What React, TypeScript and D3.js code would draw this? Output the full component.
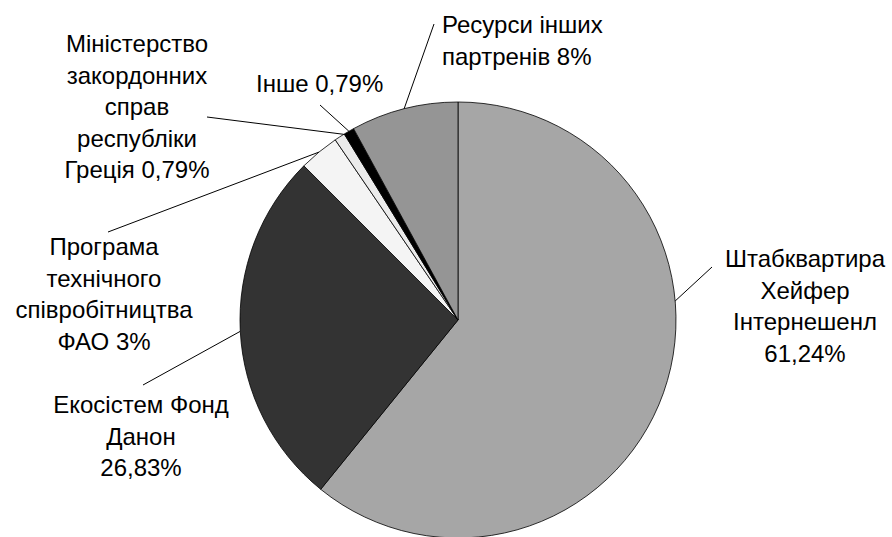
import React from "react";
import * as d3 from "d3";

// дані діаграми
const categories = [
  "Штабквартира Хейфер Інтернешенл",
  "Екосістем Фонд Данон",
  "Програма технічного співробітництва ФАО",
  "Міністерство закордонних справ республіки Греція",
  "Інше",
  "Ресурси інших партренів",
];
const values = [61.24, 26.83, 3, 0.79, 0.79, 8];
const labelLines = [
  ["Штабквартира", "Хейфер", "Інтернешенл", "61,24%"],
  ["Екосістем Фонд", "Данон", "26,83%"],
  ["Програма", "технічного", "співробітництва", "ФАО 3%"],
  ["Міністерство", "закордонних", "справ", "республіки", "Греція 0,79%"],
  ["Інше 0,79%"],
  ["Ресурси інших", "партренів 8%"],
];
const colors = ["#a6a6a6", "#333333", "#f4f4f4", "#ebebeb", "#000000", "#959595"];

// розміщення підписів (x, y першого рядка, вирівнювання, кінець виноски, кут виноски)
const labelLayout = [
  { x: 805, y: 267, anchor: "middle", lx: 712, ly: 267, angle: 85 },
  { x: 141, y: 413, anchor: "middle", lx: 143, ly: 385, angle: null },
  { x: 104, y: 255, anchor: "middle", lx: 108, ly: 232, angle: null },
  { x: 137, y: 52, anchor: "middle", lx: 207, ly: 117, angle: 328.4 },
  { x: 256, y: 92, anchor: "start", lx: 320, ly: 105, angle: null },
  { x: 442, y: 33, anchor: "start", lx: 434, ly: 24, angle: null },
];

const width = 892;
const height = 537;
const cx = 458;
const cy = 320;
const radius = 218;
const lineHeight = 31.5;

export default function App() {
  const data = categories.map((c, i) => ({ name: c, value: values[i], i }));
  const pie = d3
    .pie<{ name: string; value: number; i: number }>()
    .value((d) => d.value)
    .sort(null);
  const arcs = pie(data);
  const arc = d3
    .arc<d3.PieArcDatum<{ name: string; value: number; i: number }>>()
    .innerRadius(0)
    .outerRadius(radius);

  const pointAt = (deg: number) => {
    const a = (deg * Math.PI) / 180;
    return [radius * Math.sin(a), -radius * Math.cos(a)];
  };

  return (
    <svg
      width={width}
      height={height}
      style={{ position: "absolute", left: 0, top: 0, background: "#fff" }}
      fontFamily="'Liberation Sans', Arial, sans-serif"
      fontSize={24}
    >
      <g transform={`translate(${cx},${cy})`}>
        {arcs.map((a) => (
          <path
            key={a.data.name}
            d={arc(a) ?? ""}
            fill={colors[a.data.i]}
            stroke="#000"
            strokeWidth={0.8}
            strokeLinejoin="round"
          />
        ))}
        {arcs.map((a) => {
          const lay = labelLayout[a.data.i];
          const mid = ((a.startAngle + a.endAngle) / 2) * (180 / Math.PI);
          const [px, py] = pointAt(lay.angle ?? mid);
          return (
            <line
              key={"l" + a.data.name}
              x1={px}
              y1={py}
              x2={lay.lx - cx}
              y2={lay.ly - cy}
              stroke="#000"
              strokeWidth={1}
            />
          );
        })}
      </g>
      {labelLines.map((lines, i) => {
        const lay = labelLayout[i];
        return (
          <text key={"t" + i} textAnchor={lay.anchor} fill="#000">
            {lines.map((s, j) => (
              <tspan key={j} x={lay.x} y={lay.y + j * lineHeight}>
                {s}
              </tspan>
            ))}
          </text>
        );
      })}
    </svg>
  );
}
